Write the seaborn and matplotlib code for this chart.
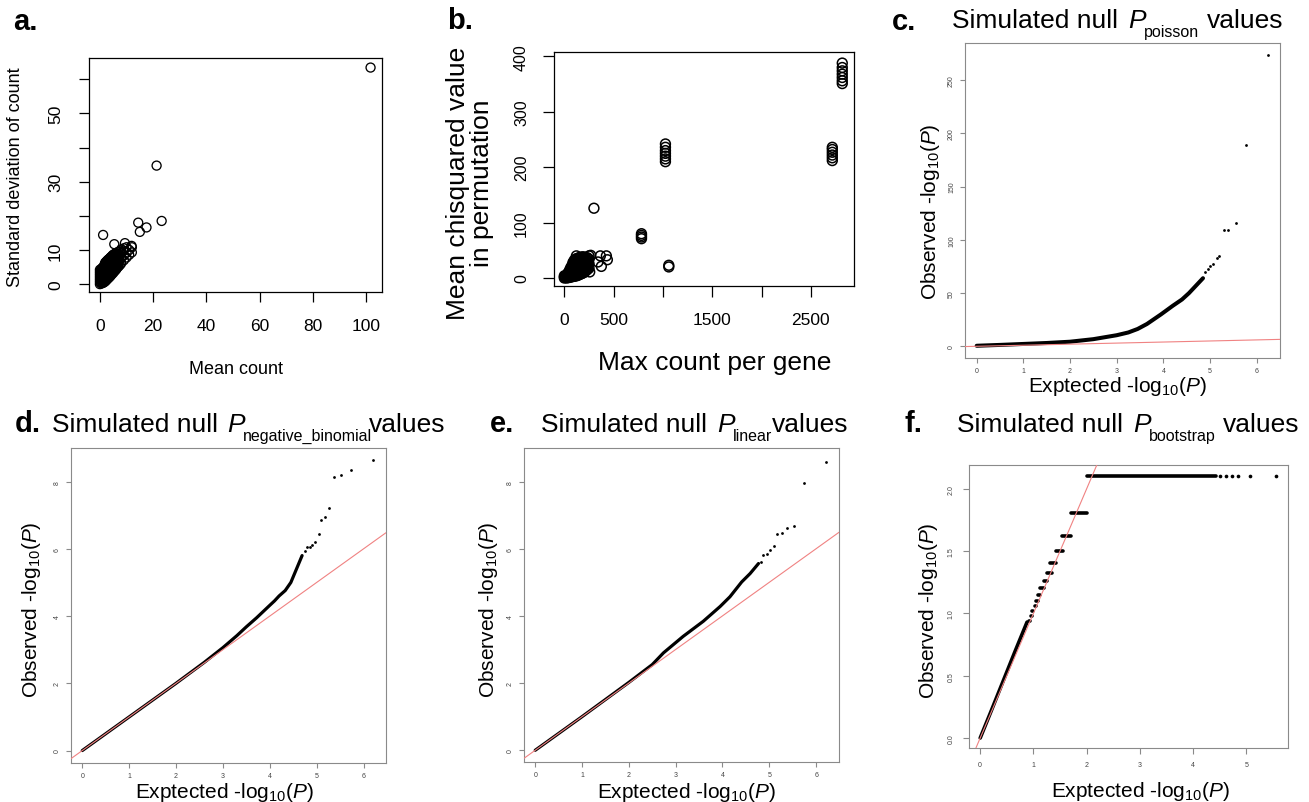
import matplotlib
matplotlib.use("Agg")
import matplotlib.pyplot as plt
import seaborn as sns

# ======================= DATA =======================
# (a) per-gene mean count vs standard deviation of count
a_mean = [0, 0, 0, 0, 0, 0, 0,
          0.5, 0.5, 0.5, 0.5, 0.5, 0.5,
          1, 1, 1, 1, 1, 1,
          1.5, 1.5, 1.5, 1.5, 1.5, 1.5,
          2, 2, 2, 2, 2, 2, 2,
          2.5, 2.5, 2.5, 2.5, 2.5, 2.5, 2.5,
          3, 3, 3, 3, 3, 3, 3,
          3.5, 3.5, 3.5, 3.5, 3.5, 3.5,
          4, 4, 4, 4, 4, 4,
          4.5, 4.5, 4.5, 4.5, 4.5, 4.5,
          5, 5, 5, 5, 5, 5,
          5.5, 5.5, 5.5, 5.5, 5.5,
          6, 6, 6, 6, 6,
          6.5, 6.5, 6.5, 6.5, 6.5,
          7, 7, 7, 7,
          7.5, 7.5, 7.5, 7.5,
          8, 8, 8, 8,
          9, 9, 9, 9,
          10, 10, 10,
          11, 11,
          12, 12,
          0.25, 0.25, 0.25, 0.25,
          0.75, 0.75, 0.75, 0.75, 0.75,
          1.25, 1.25, 1.25, 1.25, 1.25,
          1.75, 1.75, 1.75, 1.75, 1.75, 1.75,
          2.25, 2.25, 2.25, 2.25, 2.25, 2.25,
          2.75, 2.75, 2.75, 2.75, 2.75, 2.75,
          3.25, 3.25, 3.25, 3.25, 3.25, 3.25,
          3.75, 3.75, 3.75, 3.75, 3.75, 3.75,
          4.25, 4.25, 4.25, 4.25, 4.25, 4.25,
          4.75, 4.75, 4.75, 4.75, 4.75, 4.75,
          5.25, 5.25, 5.25, 5.25, 5.25,
          5.75, 5.75, 5.75, 5.75, 5.75,
          6.25, 6.25, 6.25, 6.25,
          6.75, 6.75, 6.75, 6.75,
          1.2, 5.4, 9.4, 11.9, 14.4, 17.5, 15.0, 23.2, 21.3, 101.7]
a_sd = [0, 0.7, 1.4, 2.1, 2.8, 3.5, 4.2,
        0.2, 1.0, 1.8, 2.6, 3.4, 4.4,
        0.3, 1.2, 2.1, 3.0, 3.9, 4.8,
        0.5, 1.4, 2.3, 3.2, 4.1, 5.2,
        0.8, 1.7, 2.6, 3.5, 4.4, 5.3, 6.3,
        1.2, 2.1, 3.0, 3.9, 4.8, 5.8, 6.7,
        1.6, 2.5, 3.4, 4.3, 5.2, 6.2, 7.1,
        2.0, 3.0, 4.0, 5.0, 6.0, 7.4,
        2.4, 3.4, 4.4, 5.4, 6.4, 7.8,
        2.9, 3.9, 4.9, 5.9, 6.9, 8.1,
        3.3, 4.4, 5.5, 6.6, 7.7, 8.6,
        3.8, 5.0, 6.2, 7.4, 8.8,
        4.2, 5.4, 6.6, 7.8, 9.0,
        4.8, 6.0, 7.2, 8.4, 9.3,
        5.2, 6.6, 8.0, 9.4,
        5.6, 7.0, 8.4, 9.6,
        6.1, 7.6, 9.0, 10.2,
        7.0, 8.4, 9.8, 10.5,
        7.8, 9.2, 10.8,
        8.6, 10.0,
        9.3, 10.8,
        0.5, 1.7, 2.9, 4.0,
        0.6, 1.6, 2.6, 3.6, 4.6,
        0.8, 1.8, 2.8, 3.8, 4.8,
        1.0, 2.0, 3.0, 4.0, 5.0, 5.8,
        1.4, 2.4, 3.4, 4.4, 5.4, 6.4,
        1.8, 2.8, 3.8, 4.8, 5.8, 6.8,
        2.2, 3.2, 4.2, 5.2, 6.2, 7.2,
        2.6, 3.6, 4.6, 5.6, 6.6, 7.6,
        3.0, 4.0, 5.0, 6.0, 7.0, 8.0,
        3.4, 4.4, 5.4, 6.4, 7.4, 8.4,
        3.8, 4.9, 6.0, 7.1, 8.2,
        4.3, 5.5, 6.7, 7.9, 8.9,
        4.6, 5.8, 7.0, 8.2,
        5.2, 6.4, 7.6, 8.8,
        14.4, 11.7, 12.0, 11.2, 18.0, 16.6, 15.3, 18.5, 34.7, 63.4]
a_xticks = [0, 20, 40, 60, 80, 100]
a_xtick_labels = ["0", "20", "40", "60", "80", "100"]
a_yticks = [0, 10, 20, 30, 40, 50, 60]
a_ytick_labels = ["0", "10", "", "30", "", "50", ""]

# (b) max count per gene vs mean chi-squared value in permutation
b_max = [0, 0, 0,
         25, 25, 25,
         50, 50, 50, 50,
         75, 75, 75, 75, 75,
         100, 100, 100, 100, 100, 100,
         125, 125, 125, 125, 125, 125,
         150, 150, 150, 150, 150, 150,
         175, 175, 175, 175, 175, 175,
         200, 200, 200, 200, 200, 200,
         225, 225, 225, 225, 225,
         250, 250, 250, 250,
         12, 12,
         37, 37, 37,
         62, 62, 62, 62, 62,
         87, 87, 87, 87, 87, 87,
         112, 112, 112, 112, 112, 112,
         137, 137, 137, 137, 137, 137,
         162, 162, 162, 162, 162, 162,
         187, 187, 187, 187, 187, 187,
         212, 212, 212, 212, 212,
         237, 237, 237, 237,
         122, 267, 365, 426, 436, 375, 341, 257, 300,
         782, 782, 782, 782,
         1025, 1025, 1025, 1025, 1025, 1025, 1025,
         1059, 1059,
         2717, 2717, 2717, 2717, 2717, 2717,
         2818, 2818, 2818, 2818, 2818, 2818, 2818]
b_chisq = [0, 2, 4,
           0, 3, 6,
           1, 5, 9, 13,
           2, 7, 12, 17, 22,
           3, 9, 15, 21, 27, 32,
           4, 10, 16, 22, 28, 35,
           6, 12, 18, 24, 30, 37,
           8, 14, 20, 26, 32, 38,
           10, 16, 22, 28, 34, 38,
           14, 20, 26, 32, 37,
           18, 26, 34, 40,
           1, 3,
           1, 5, 9,
           2, 6, 10, 14, 18,
           3, 8, 13, 18, 23, 28,
           4, 10, 16, 22, 28, 34,
           5, 11, 17, 23, 29, 35,
           7, 13, 19, 25, 31, 37,
           9, 15, 21, 27, 33, 38,
           12, 18, 24, 30, 36,
           16, 23, 30, 36,
           40, 41, 40, 40, 33, 21, 29, 11, 126,
           71, 74, 77, 80,
           210, 215, 220, 225, 230, 236, 242,
           20, 23,
           212, 217, 222, 227, 232, 236,
           351, 356, 362, 368, 374, 380, 388]
b_xticks = [0, 500, 1000, 1500, 2000, 2500]
b_xtick_labels = ["0", "500", "", "1500", "", "2500"]
b_yticks = [0, 100, 200, 300, 400]
b_ytick_labels = ["0", "100", "200", "300", "400"]

# (c) QQ: simulated null P (poisson)
c_dense_exp = [0.0, 0.5, 1.0, 1.5, 2.0, 2.5, 3.0, 3.25, 3.45, 3.65, 3.95, 4.2, 4.4, 4.55, 4.7, 4.85]
c_dense_obs = [0.5, 1.3, 2.2, 3.1, 4.3, 6.7, 10.4, 13.0, 16.3, 21.0, 30.0, 38.0, 44.0, 50.0, 57.0, 64.0]
c_tail_exp = [4.9, 4.95, 5.0, 5.07, 5.14, 5.2, 5.30, 5.39, 5.55, 5.77, 6.25]
c_tail_obs = [70.0, 73.0, 75.5, 77.5, 83.0, 85.0, 109.0, 109.0, 116.0, 189.0, 274.0]
c_xticks = [0, 1, 2, 3, 4, 5, 6]
c_yticks = [0, 50, 100, 150, 200, 250]

# (d) QQ: negative binomial
d_dense_exp = [0.0, 1.0, 2.0, 2.6, 3.0, 3.3, 3.5, 3.72, 4.0, 4.1, 4.2, 4.33, 4.45, 4.51, 4.6, 4.69]
d_dense_obs = [0.0, 1.0, 2.0, 2.62, 3.06, 3.42, 3.68, 3.95, 4.32, 4.45, 4.6, 4.76, 5.0, 5.2, 5.5, 5.8]
d_tail_exp = [4.75, 4.79, 4.85, 4.9, 4.97, 5.04, 5.09, 5.17, 5.26, 5.37, 5.51, 5.74, 6.21]
d_tail_obs = [5.95, 6.05, 6.07, 6.1, 6.2, 6.45, 6.85, 6.95, 7.22, 8.15, 8.2, 8.35, 8.65]
d_xticks = [0, 1, 2, 3, 4, 5, 6]
d_yticks = [0, 2, 4, 6, 8]

# (e) QQ: linear
e_dense_exp = [0.0, 1.0, 2.0, 2.5, 2.74, 3.16, 3.59, 3.95, 4.16, 4.41, 4.59, 4.77]
e_dense_obs = [0.0, 1.0, 2.02, 2.55, 2.9, 3.39, 3.84, 4.28, 4.57, 5.01, 5.26, 5.56]
e_tail_exp = [4.82, 4.87, 4.95, 5.02, 5.10, 5.17, 5.27, 5.38, 5.53, 5.75, 6.22]
e_tail_obs = [5.62, 5.8, 5.85, 5.95, 6.08, 6.44, 6.46, 6.62, 6.69, 7.96, 8.57]
e_xticks = [0, 1, 2, 3, 4, 5, 6]
e_yticks = [0, 2, 4, 6, 8]

# (f) QQ: bootstrap (discrete observed levels)
f_line_exp = [0.0, 0.2, 0.425, 0.65, 0.88]
f_line_obs = [0.0, 0.21, 0.45, 0.69, 0.93]
f_step_obs = [0.94, 0.978, 1.018, 1.058, 1.098, 1.146, 1.20, 1.256, 1.32, 1.40, 1.50, 1.624, 1.805, 2.104]
f_step_exp_start = [0.92, 0.95, 0.98, 1.02, 1.05, 1.09, 1.13, 1.20, 1.26, 1.32, 1.42, 1.54, 1.70, 2.00]
f_step_exp_end = [0.93, 0.97, 1.00, 1.04, 1.08, 1.13, 1.19, 1.26, 1.34, 1.43, 1.55, 1.71, 2.00, 4.42]
f_tail_exp = [4.50, 4.61, 4.72, 4.84, 5.06, 5.55]
f_tail_obs = [2.104, 2.104, 2.104, 2.104, 2.104, 2.104]
f_xticks = [0, 1, 2, 3, 4, 5]
f_yticks = [0.0, 0.5, 1.0, 1.5, 2.0]
f_ytick_labels = ["0.0", "0.5", "1.0", "1.5", "2.0"]

# ======================= STYLE =======================
sns.set_style("ticks")
plt.rcParams["font.family"] = ["Liberation Sans", "DejaVu Sans"]
plt.rcParams["mathtext.fontset"] = "custom"
plt.rcParams["mathtext.rm"] = "Liberation Sans"
plt.rcParams["mathtext.it"] = "Liberation Sans:italic"
plt.rcParams["mathtext.bf"] = "Liberation Sans:bold"
plt.rcParams["text.color"] = "black"
plt.rcParams["axes.labelcolor"] = "black"
plt.rcParams["xtick.color"] = "black"
plt.rcParams["ytick.color"] = "black"

W, H = 1309, 803
fig = plt.figure(figsize=(W / 100, H / 100), dpi=100)
fig.patch.set_facecolor("white")

RED = "#f08282"


def add_ax(box):
    L, T, R, B = box
    return fig.add_axes([L / W, 1 - B / H, (R - L) / W, (B - T) / H])


def style_axis(ax, xt, yt, xtl, ytl, size, tlen, padx, pady, spine_c, lw, lab_c):
    ax.set_xticks(xt)
    ax.set_yticks(yt)
    ax.set_xticklabels(xtl)
    ax.set_yticklabels(ytl)
    for s in ax.spines.values():
        s.set_visible(True)
        s.set_color(spine_c)
        s.set_linewidth(lw)
    ax.tick_params(axis="x", direction="out", length=tlen, width=lw, color=spine_c,
                   labelsize=size, labelcolor=lab_c, pad=padx)
    ax.tick_params(axis="y", direction="out", length=tlen, width=lw, color=spine_c,
                   labelsize=size, labelcolor=lab_c, pad=pady)
    for lab in ax.get_yticklabels():
        lab.set_rotation(90)
        lab.set_va("center")
    ax.grid(False)
    ax.set_facecolor("white")


def place_label(ax, box, axis, text, px, py, size, va="center", linespacing=1.2):
    L, T, R, B = box
    ax_x = (px - L) / (R - L)
    ax_y = (B - py) / (B - T)
    if axis == "x":
        ax.set_xlabel(text, fontsize=size, color="black")
        ax.xaxis.set_label_coords(ax_x, ax_y)
        ax.xaxis.label.set_va(va)
    else:
        ax.set_ylabel(text, fontsize=size, linespacing=linespacing, color="black")
        ax.yaxis.set_label_coords(ax_x, ax_y)
        ax.yaxis.label.set_va("center")
        ax.yaxis.label.set_ha("center")


def put_text(x, y, txt, size, style="normal", weight="normal"):
    fig.text(x / W, 1 - y / H, txt, fontsize=size, style=style, weight=weight,
             ha="left", va="baseline", color="black")


def qq_title(y_base, x_main, x_p, x_sub, x_vals, sub):
    put_text(x_main, y_base, "Simulated null", 19)
    put_text(x_p, y_base, "P", 19, style="italic")
    put_text(x_sub, y_base + 9, sub, 11.5)
    put_text(x_vals, y_base, "values", 19)


YLAB = r"Observed -log$_{10}$($\mathit{P}$)"
XLAB = r"Exptected -log$_{10}$($\mathit{P}$)"

# ======================= PANEL a =======================
box_a = (89, 59, 382, 293)
ax_a = add_ax(box_a)
sns.scatterplot(x=a_mean, y=a_sd, ax=ax_a, marker="o", s=42, facecolor="none",
                edgecolor="black", linewidth=0.95, legend=False)
ax_a.set_xlim(-4.1, 106)
ax_a.set_ylim(-2.3, 66.2)
style_axis(ax_a, a_xticks, a_yticks, a_xtick_labels, a_ytick_labels, 12.5, 7.2, 11.5, 11.5,
           "black", 0.9, "black")
place_label(ax_a, box_a, "x", "Mean count", 236, 370, 13)
place_label(ax_a, box_a, "y", "Standard deviation of count", 16, 177, 13)
put_text(13, 30, "a.", 21, weight="bold")

# ======================= PANEL b =======================
box_b = (554, 53, 854, 287)
ax_b = add_ax(box_b)
sns.scatterplot(x=b_max, y=b_chisq, ax=ax_b, marker="o", s=50, facecolor="none",
                edgecolor="black", linewidth=1.1, legend=False)
ax_b.set_xlim(-105, 2937)
ax_b.set_ylim(-14.4, 408)
style_axis(ax_b, b_xticks, b_yticks, b_xtick_labels, b_ytick_labels, 12.5, 8, 10.8, 10,
           "black", 0.9, "black")
for lab in ax_b.get_yticklabels():
    lab.set_fontsize(11.5)
place_label(ax_b, box_b, "x", "Max count per gene", 715, 363, 19)
place_label(ax_b, box_b, "y", "Mean chisquared value\nin permutation", 470, 183, 19, linespacing=1.0)
put_text(447, 29, "b.", 21, weight="bold")


# ======================= QQ helper =======================
def qq_axes(box, xlim, ylim, xt, yt, ytl, tlen=3.6, padx=3, pady=3.6):
    ax = add_ax(box)
    ax.set_xlim(*xlim)
    ax.set_ylim(*ylim)
    style_axis(ax, xt, yt, [str(v) for v in xt], ytl, 5, tlen, padx, pady,
               "#8a8a8a", 0.8, "#444444")
    return ax


# ======================= PANEL c =======================
box_c = (965, 44, 1280, 359)
ax_c = qq_axes(box_c, (-0.25, 6.5), (-11, 285), c_xticks, c_yticks, [str(v) for v in c_yticks])
sns.lineplot(x=c_dense_exp, y=c_dense_obs, ax=ax_c, color="black", linewidth=2.9,
             sort=False, estimator=None, solid_capstyle="round")
sns.scatterplot(x=c_tail_exp, y=c_tail_obs, ax=ax_c, color="black", s=4, linewidth=0, legend=False)
ax_c.axline((0, 0), slope=1, color=RED, lw=0.8, zorder=5)
place_label(ax_c, box_c, "x", XLAB, 1117, 392, 15, va="baseline")
place_label(ax_c, box_c, "y", YLAB, 930, 212, 15)
put_text(892, 30, "c.", 21, weight="bold")
qq_title(28, 952, 1128, 1144, 1207, "poisson")

# ======================= PANEL d =======================
box_d = (71, 449, 386, 764)
ax_d = qq_axes(box_d, (-0.24, 6.48), (-0.37, 9.0), d_xticks, d_yticks, [str(v) for v in d_yticks])
sns.lineplot(x=d_dense_exp, y=d_dense_obs, ax=ax_d, color="black", linewidth=2.3,
             sort=False, estimator=None, solid_capstyle="round")
sns.scatterplot(x=d_tail_exp, y=d_tail_obs, ax=ax_d, color="black", s=4, linewidth=0, legend=False)
ax_d.axline((0, 0), slope=1, color=RED, lw=0.8, zorder=5)
place_label(ax_d, box_d, "x", XLAB, 224, 798, 15, va="baseline")
place_label(ax_d, box_d, "y", YLAB, 32, 610, 15)
put_text(15, 432, "d.", 21, weight="bold")
qq_title(432, 52, 227, 243, 369, "negative_binomial")

# ======================= PANEL e =======================
box_e = (524, 449, 839, 763)
ax_e = qq_axes(box_e, (-0.24, 6.49), (-0.35, 9.0), e_xticks, e_yticks, [str(v) for v in e_yticks])
sns.lineplot(x=e_dense_exp, y=e_dense_obs, ax=ax_e, color="black", linewidth=2.3,
             sort=False, estimator=None, solid_capstyle="round")
sns.scatterplot(x=e_tail_exp, y=e_tail_obs, ax=ax_e, color="black", s=4, linewidth=0, legend=False)
ax_e.axline((0, 0), slope=1, color=RED, lw=0.8, zorder=5)
place_label(ax_e, box_e, "x", XLAB, 686, 798, 15, va="baseline")
place_label(ax_e, box_e, "y", YLAB, 489, 610, 15)
put_text(490, 432, "e.", 21, weight="bold")
qq_title(432, 541, 717, 733, 772, "linear")

# ======================= PANEL f =======================
box_f = (969, 466, 1288, 749)
ax_f = qq_axes(box_f, (-0.21, 5.78), (-0.08, 2.19), f_xticks, f_yticks, f_ytick_labels,
               tlen=4.3, padx=5, pady=6)
sns.lineplot(x=f_line_exp, y=f_line_obs, ax=ax_f, color="black", linewidth=2.6,
             sort=False, estimator=None, solid_capstyle="round")
ax_f.hlines(f_step_obs, f_step_exp_start, f_step_exp_end, colors="black", linewidth=2.6,
            capstyle="round")
sns.scatterplot(x=f_tail_exp, y=f_tail_obs, ax=ax_f, color="black", s=7, linewidth=0, legend=False)
ax_f.axline((0, 0), slope=1, color=RED, lw=0.8, zorder=5)
place_label(ax_f, box_f, "x", XLAB, 1140, 797, 15, va="baseline")
place_label(ax_f, box_f, "y", YLAB, 929, 611, 15)
put_text(905, 432, "f.", 21, weight="bold")
qq_title(432, 957, 1133, 1149, 1223, "bootstrap")

fig.savefig("out.png", dpi=100, facecolor="white")
